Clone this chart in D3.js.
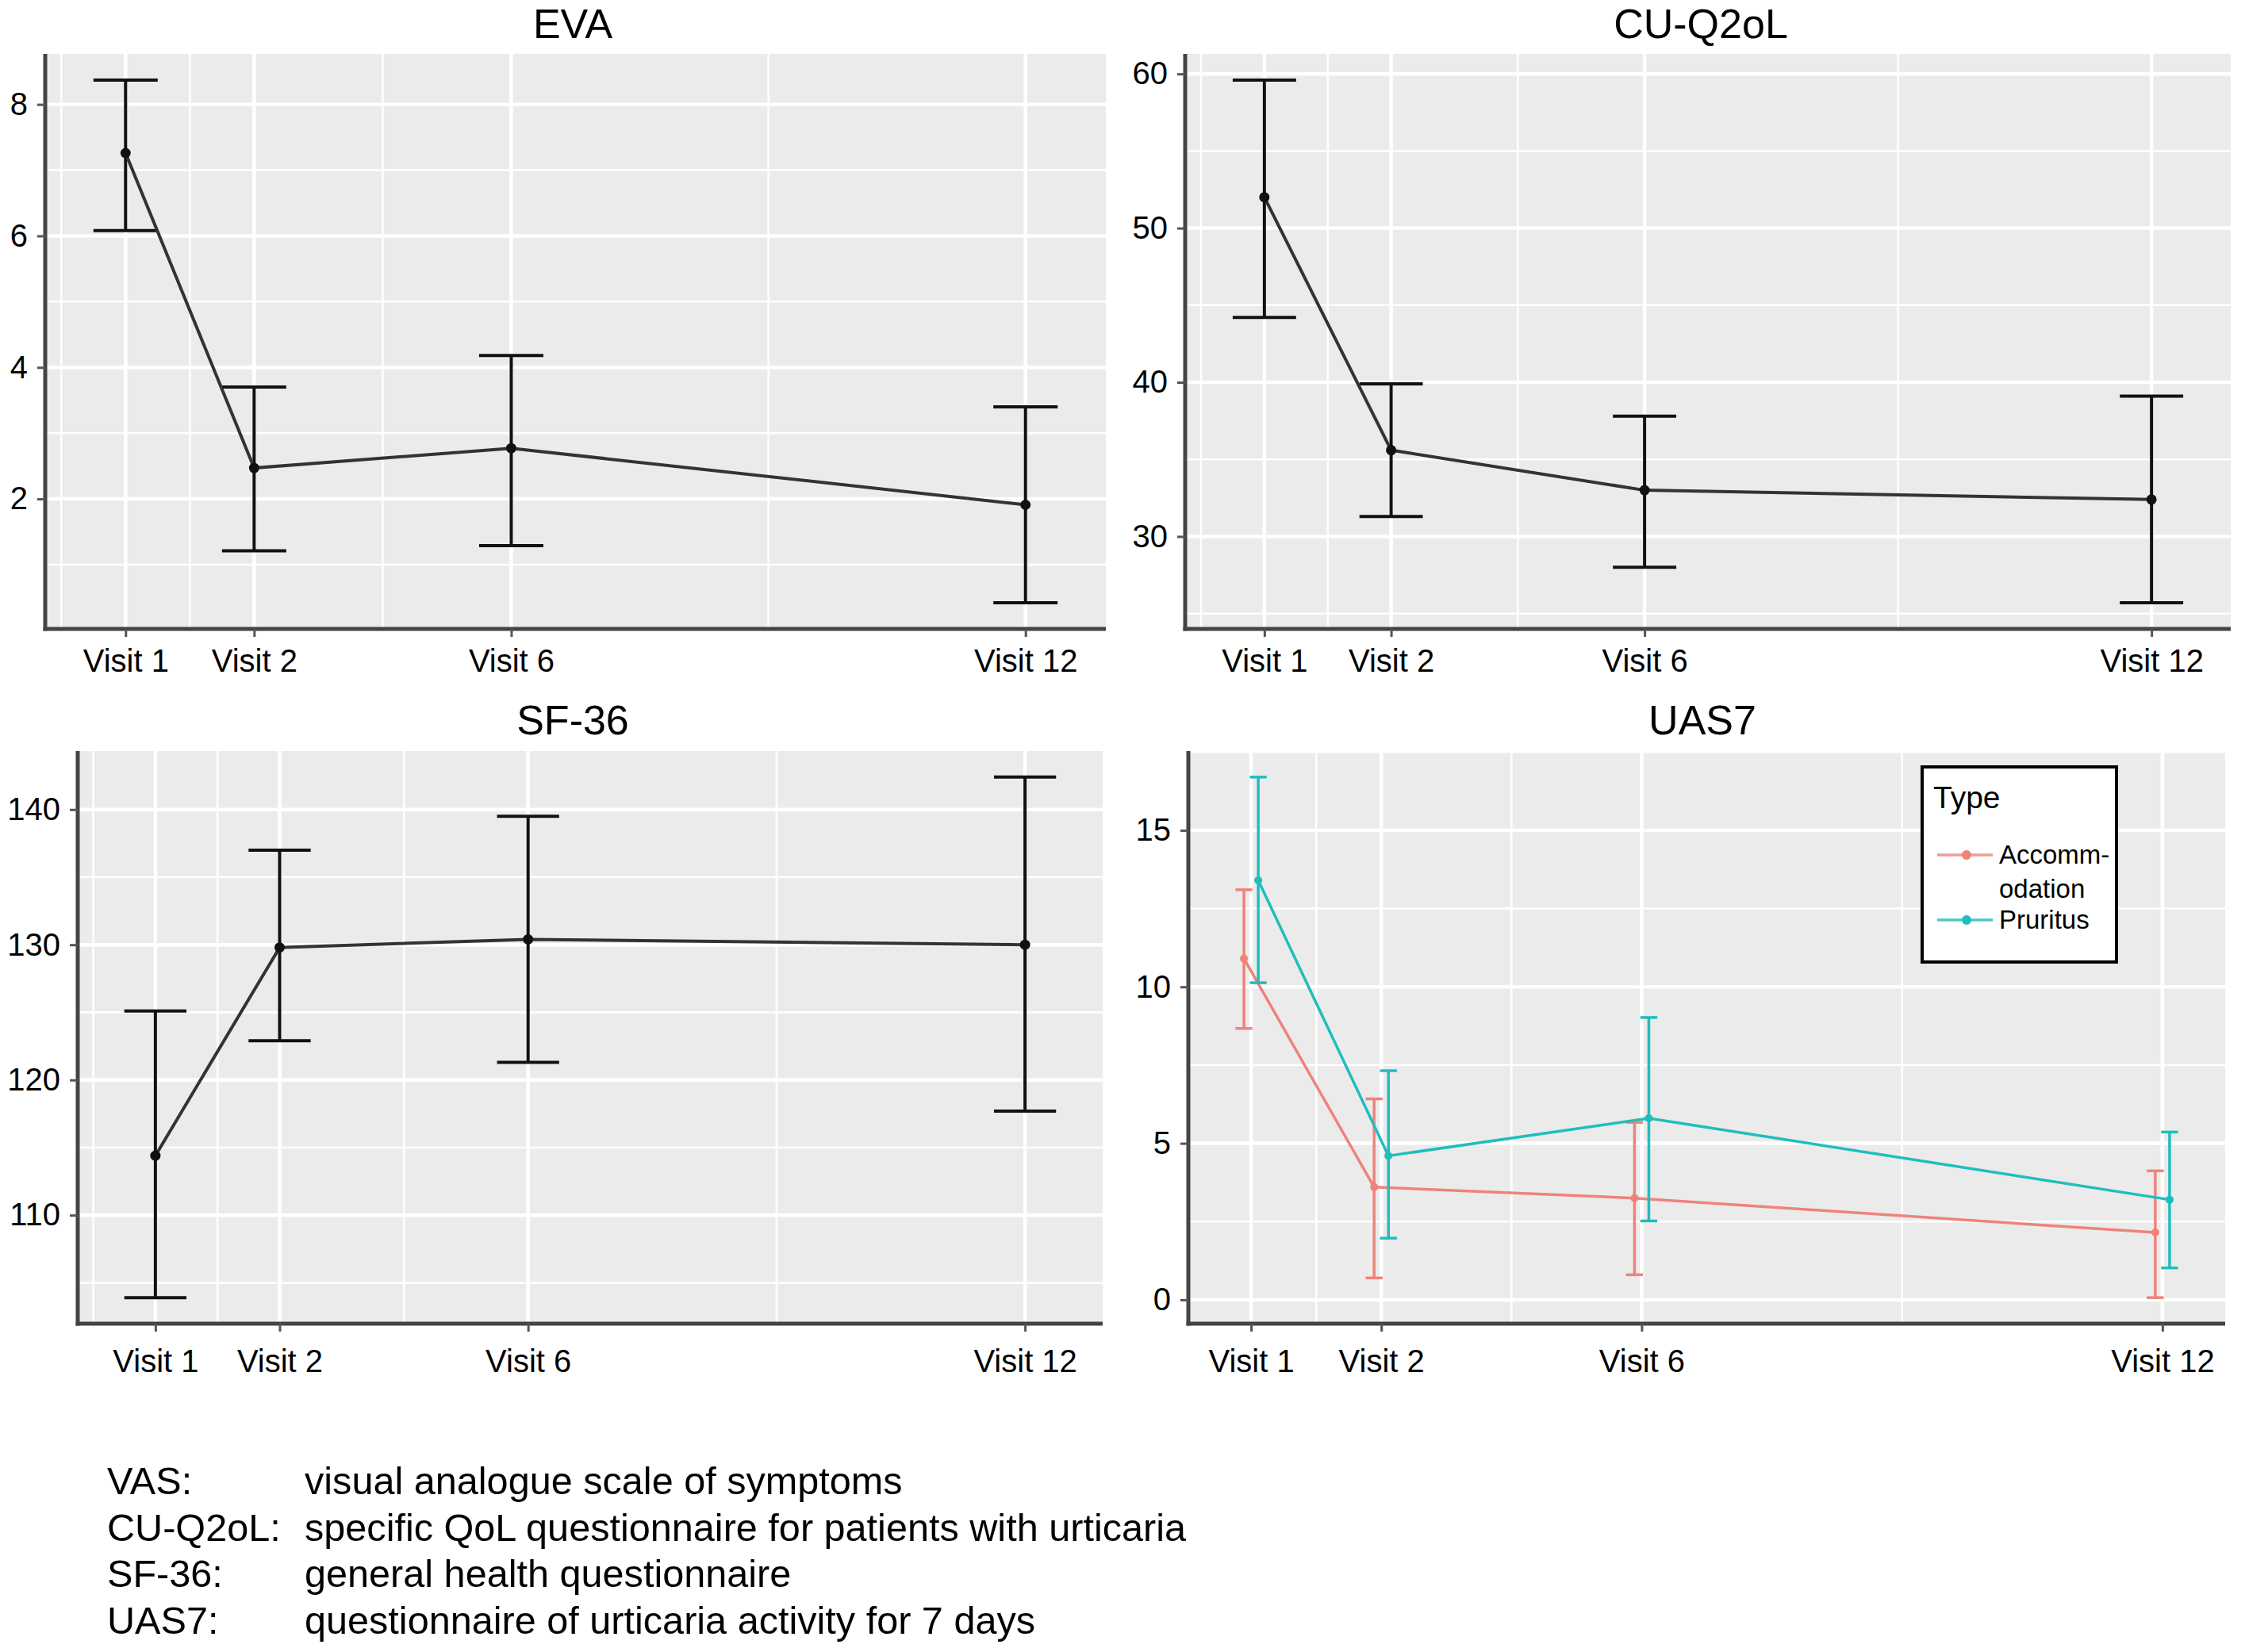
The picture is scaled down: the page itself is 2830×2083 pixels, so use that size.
<!DOCTYPE html>
<html>
<head>
<meta charset="utf-8">
<script src="https://cdn.jsdelivr.net/npm/d3@7"></script>
<style>
  body { margin: 0; background: #fff; }
  svg { display: block; font-family: "Liberation Sans", Arial, Helvetica, sans-serif; }
</style>
</head>
<body>
<div id="chart"></div>
<script>
// visits and their position along the time axis
var visits = ["Visit 1", "Visit 2", "Visit 6", "Visit 12"];
var visitPos = [0, 1, 3, 7];

// EVA
var evaMean = [7.26, 2.47, 2.77, 1.91];
var evaLow  = [6.08, 1.21, 1.29, 0.42];
var evaHigh = [8.37, 3.70, 4.18, 3.40];
var evaTicks = [2, 4, 6, 8];

// CU-Q2oL
var cuMean = [52.0, 35.6, 33.0, 32.4];
var cuLow  = [44.2, 31.3, 28.0, 25.7];
var cuHigh = [59.6, 39.9, 37.8, 39.1];
var cuTicks = [30, 40, 50, 60];

// SF-36
var sfMean = [114.4, 129.8, 130.4, 130.0];
var sfLow  = [103.9, 122.9, 121.3, 117.7];
var sfHigh = [125.1, 137.0, 139.5, 142.4];
var sfTicks = [110, 120, 130, 140];

// UAS7
var typeNames = ["Accomm-\nodation", "Pruritus"];
var typeColors = ["#ee837b", "#20bdbd"];
var accMean = [10.9, 3.6, 3.25, 2.15];
var accLow  = [8.67, 0.70, 0.80, 0.07];
var accHigh = [13.1, 6.42, 5.67, 4.12];
var pruMean = [13.4, 4.6, 5.8, 3.2];
var pruLow  = [10.13, 1.97, 2.52, 1.02];
var pruHigh = [16.7, 7.32, 9.02, 5.36];
var uasTicks = [0, 5, 10, 15];

// footnote
var abbrevs = ["VAS:", "CU-Q2oL:", "SF-36:", "UAS7:"];
var meanings = [
  "visual analogue scale of symptoms",
  "specific QoL questionnaire for patients with urticaria",
  "general health questionnaire",
  "questionnaire of urticaria activity for 7 days"
];

var W = 2830, H = 2083;
var svg = d3.select("#chart").append("svg")
  .attr("width", W).attr("height", H)
  .attr("viewBox", "0 0 " + W + " " + H);

function series(mean, low, high) {
  return mean.map(function(m, i) { return {x: visitPos[i], m: m, lo: low[i], hi: high[i]}; });
}

// ggplot style minor breaks: midpoints between majors, extended one step beyond
function minorBreaks(b, dom) {
  var ext = [b[0] - (b[1] - b[0])].concat(b, [b[b.length - 1] + (b[b.length - 1] - b[b.length - 2])]);
  var out = [];
  for (var i = 0; i < ext.length - 1; i++) out.push((ext[i] + ext[i + 1]) / 2);
  return out.filter(function(v) { return v > dom[0] && v < dom[1]; });
}

function panel(cfg) {
  var all = [];
  cfg.groups.forEach(function(g) { g.data.forEach(function(d) { all.push(d.lo, d.hi); }); });
  var lo = d3.min(all), hi = d3.max(all), pad = (hi - lo) * 0.05;
  var ydom = [lo - pad, hi + pad];
  var xlo = -cfg.dodge - cfg.barW / 2, xhi = 7 + cfg.dodge + cfg.barW / 2, xpad = (xhi - xlo) * 0.05;
  var xdom = [xlo - xpad, xhi + xpad];

  var x = d3.scaleLinear().domain(xdom).range([cfg.l, cfg.r]);
  var y = d3.scaleLinear().domain(ydom).range([cfg.b, cfg.t]);

  var g = svg.append("g");
  g.append("rect").attr("x", cfg.l).attr("y", cfg.t)
    .attr("width", cfg.r - cfg.l).attr("height", cfg.b - cfg.t).attr("fill", "#ebebeb");

  // grid
  g.selectAll(".ymin").data(minorBreaks(cfg.ticks, ydom)).enter().append("line")
    .attr("x1", cfg.l).attr("x2", cfg.r).attr("y1", y).attr("y2", y)
    .attr("stroke", "#fff").attr("stroke-width", 2.5);
  g.selectAll(".xmin").data(minorBreaks(visitPos, xdom)).enter().append("line")
    .attr("y1", cfg.t).attr("y2", cfg.b).attr("x1", x).attr("x2", x)
    .attr("stroke", "#fff").attr("stroke-width", 2.5);
  g.selectAll(".ymaj").data(cfg.ticks).enter().append("line")
    .attr("x1", cfg.l).attr("x2", cfg.r).attr("y1", y).attr("y2", y)
    .attr("stroke", "#fff").attr("stroke-width", 4.5);
  g.selectAll(".xmaj").data(visitPos).enter().append("line")
    .attr("y1", cfg.t).attr("y2", cfg.b).attr("x1", x).attr("x2", x)
    .attr("stroke", "#fff").attr("stroke-width", 4.5);

  // error bars, lines, points
  cfg.groups.forEach(function(grp, gi) {
    var off = cfg.groups.length > 1 ? (gi === 0 ? -cfg.dodge : cfg.dodge) : 0;
    var gg = g.append("g");
    var eb = gg.selectAll(".eb").data(grp.data).enter().append("g");
    eb.append("line")
      .attr("x1", function(d) { return x(d.x + off); }).attr("x2", function(d) { return x(d.x + off); })
      .attr("y1", function(d) { return y(d.lo); }).attr("y2", function(d) { return y(d.hi); })
      .attr("stroke", grp.color).attr("stroke-width", cfg.ebW);
    ["lo", "hi"].forEach(function(k) {
      eb.append("line")
        .attr("x1", function(d) { return x(d.x + off - cfg.barW / 2); })
        .attr("x2", function(d) { return x(d.x + off + cfg.barW / 2); })
        .attr("y1", function(d) { return y(d[k]); }).attr("y2", function(d) { return y(d[k]); })
        .attr("stroke", grp.color).attr("stroke-width", cfg.ebW);
    });
    gg.append("path").datum(grp.data)
      .attr("d", d3.line().x(function(d) { return x(d.x + off); }).y(function(d) { return y(d.m); }))
      .attr("fill", "none").attr("stroke", grp.lineColor || grp.color).attr("stroke-width", cfg.lineW);
    gg.selectAll("circle").data(grp.data).enter().append("circle")
      .attr("cx", function(d) { return x(d.x + off); }).attr("cy", function(d) { return y(d.m); })
      .attr("r", cfg.ptR).attr("fill", grp.color);
  });

  // axes
  var xa = g.append("g").attr("transform", "translate(0," + cfg.b + ")")
    .call(d3.axisBottom(x).tickValues(visitPos).tickSize(10).tickSizeOuter(0)
      .tickFormat(function(v) { return visits[visitPos.indexOf(v)]; }));
  xa.selectAll("text").attr("dy", null).attr("y", cfg.xLab).style("font-size", "40px").attr("fill", "#000");
  var ya = g.append("g").attr("transform", "translate(" + cfg.l + ",0)")
    .call(d3.axisLeft(y).tickValues(cfg.ticks).tickSize(10).tickSizeOuter(0).tickPadding(12));
  ya.selectAll("text").style("font-size", "40px").attr("fill", "#000");
  [xa, ya].forEach(function(a) {
    a.select(".domain").attr("stroke", "#444").attr("stroke-width", 5);
    a.selectAll(".tick line").attr("stroke", "#555").attr("stroke-width", 3);
  });
  // extend domain lines over full panel
  xa.select(".domain").attr("d", "M" + (cfg.l - 2.5) + ",0H" + cfg.r);
  ya.select(".domain").attr("d", "M0," + cfg.t + "V" + (cfg.b + 2.5));

  svg.append("text").attr("x", cfg.titleX).attr("y", cfg.titleY)
    .attr("text-anchor", "middle").style("font-size", "52px").text(cfg.title);
  return {x: x, y: y};
}

panel({
  title: "EVA", titleX: 722, titleY: 48,
  l: 57, r: 1394, t: 68, b: 793, xLab: 54,
  ticks: evaTicks, barW: 0.5, dodge: 0, ebW: 4, lineW: 4, ptR: 6.5,
  groups: [{data: series(evaMean, evaLow, evaHigh), color: "#111", lineColor: "#333"}]
});

panel({
  title: "CU-Q2oL", titleX: 2144, titleY: 48,
  l: 1494, r: 2812, t: 68, b: 793, xLab: 54,
  ticks: cuTicks, barW: 0.5, dodge: 0, ebW: 4, lineW: 4, ptR: 6.5,
  groups: [{data: series(cuMean, cuLow, cuHigh), color: "#111", lineColor: "#333"}]
});

panel({
  title: "SF-36", titleX: 722, titleY: 926,
  l: 98, r: 1390, t: 947, b: 1669, xLab: 61,
  ticks: sfTicks, barW: 0.5, dodge: 0, ebW: 4, lineW: 4, ptR: 6.5,
  groups: [{data: series(sfMean, sfLow, sfHigh), color: "#111", lineColor: "#333"}]
});

panel({
  title: "UAS7", titleX: 2146, titleY: 926,
  l: 1498, r: 2805, t: 947, b: 1669, xLab: 61,
  ticks: uasTicks, barW: 0.13, dodge: 0.055, ebW: 3.5, lineW: 3.5, ptR: 5,
  groups: [
    {data: series(accMean, accLow, accHigh), color: typeColors[0]},
    {data: series(pruMean, pruLow, pruHigh), color: typeColors[1]}
  ]
});

// legend
var lg = svg.append("g");
lg.append("rect").attr("x", 2423).attr("y", 967).attr("width", 245).attr("height", 246)
  .attr("fill", "#fff").attr("stroke", "#000").attr("stroke-width", 4);
lg.append("text").attr("x", 2437).attr("y", 1019).style("font-size", "39px").text("Type");
var keyY = [1078, 1160];
typeNames.forEach(function(name, i) {
  lg.append("line").attr("x1", 2442).attr("x2", 2512).attr("y1", keyY[i]).attr("y2", keyY[i])
    .attr("stroke", typeColors[i]).attr("stroke-width", 3.5).attr("opacity", 0.8);
  lg.append("circle").attr("cx", 2479).attr("cy", keyY[i]).attr("r", 6).attr("fill", typeColors[i]);
  var t = lg.append("text").attr("x", 2520).attr("y", keyY[i] + 11).style("font-size", "33px");
  name.split("\n").forEach(function(part, j) {
    t.append("tspan").attr("x", 2520).attr("dy", j === 0 ? 0 : 43).text(part);
  });
});

// footnote
var fn = svg.append("g").style("font-size", "48.6px");
abbrevs.forEach(function(a, i) {
  var yy = 1884 + i * 58.7;
  fn.append("text").attr("x", 135).attr("y", yy).text(a);
  fn.append("text").attr("x", 384).attr("y", yy).text(meanings[i]);
});
</script>
</body>
</html>
